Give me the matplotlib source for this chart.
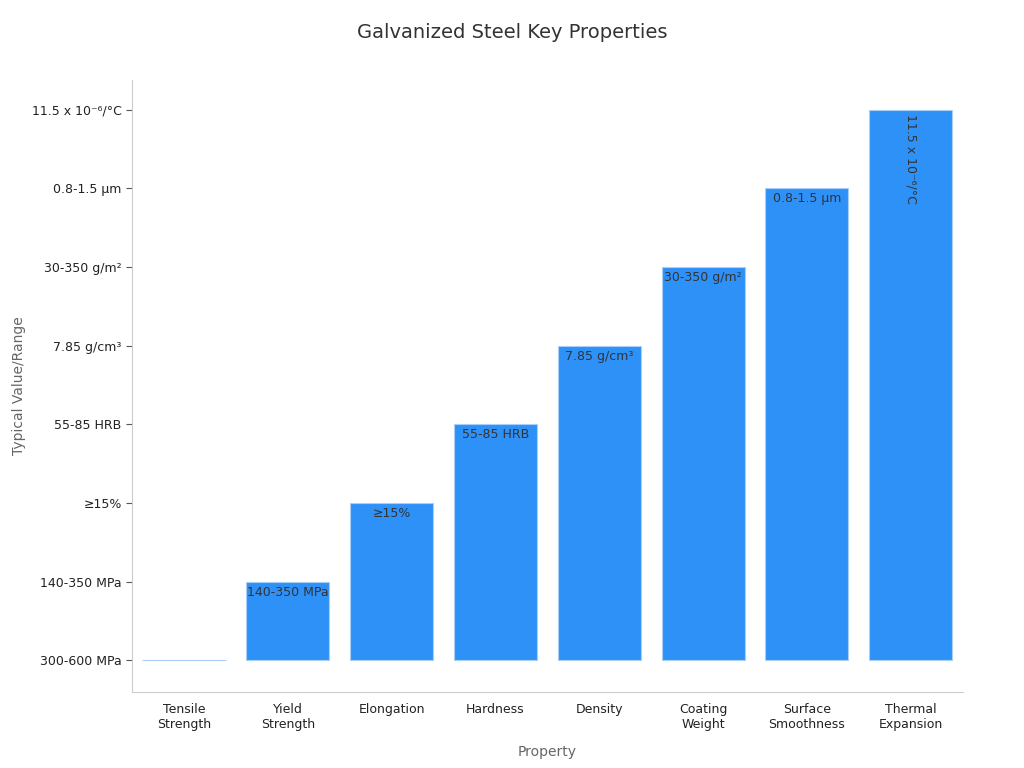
import numpy as np
import matplotlib.pyplot as plt

categories = ["Tensile\nStrength", "Yield\nStrength", "Elongation", "Hardness",
              "Density", "Coating\nWeight", "Surface\nSmoothness", "Thermal\nExpansion"]
value_labels = ["300-600 MPa", "140-350 MPa", "≥15%", "55-85 HRB", "7.85 g/cm³",
                "30-350 g/m²", "0.8-1.5 μm", "11.5 x 10⁻⁶/°C"]
# categorical y-axis: each bar's height is the index of its value label
levels = list(range(len(value_labels)))

fig, ax = plt.subplots(figsize=(10.24, 7.68), dpi=100)
fig.subplots_adjust(left=0.129, right=0.94, top=0.896, bottom=0.099)

x = np.arange(len(categories))
bars = ax.bar(x, levels, width=0.8, color="#2E91F8", edgecolor="#A9CFF7", linewidth=0.8)

for i, (b, lab) in enumerate(zip(bars, value_labels)):
    if levels[i] == 0:
        continue
    if i == len(categories) - 1:
        ax.text(b.get_x() + b.get_width() / 2, levels[i] - 0.05, lab, rotation=270,
                ha="center", va="top", fontsize=9, color="#333333")
    else:
        ax.text(b.get_x() + b.get_width() / 2, levels[i] - 0.05, lab,
                ha="center", va="top", fontsize=9, color="#333333")

ax.set_yticks(levels)
ax.set_yticklabels(value_labels, fontsize=9, color="#222222")
ax.set_xticks(x)
ax.set_xticklabels(categories, fontsize=9, color="#222222")
ax.tick_params(axis="x", length=0, pad=8)
ax.tick_params(axis="y", length=4, color="#555555")
ax.set_ylim(-0.4, 7.38)
ax.set_xlim(-0.5, 7.5)

ax.set_ylabel("Typical Value/Range", fontsize=10, color="#666666")
ax.set_xlabel("Property", fontsize=10, color="#666666", labelpad=10)
fig.suptitle("Galvanized Steel Key Properties", fontsize=14, color="#333333", y=0.97)

for s in ("top", "right"):
    ax.spines[s].set_visible(False)
for s in ("left", "bottom"):
    ax.spines[s].set_color("#CCCCCC")

fig.savefig("out.png", dpi=100)
